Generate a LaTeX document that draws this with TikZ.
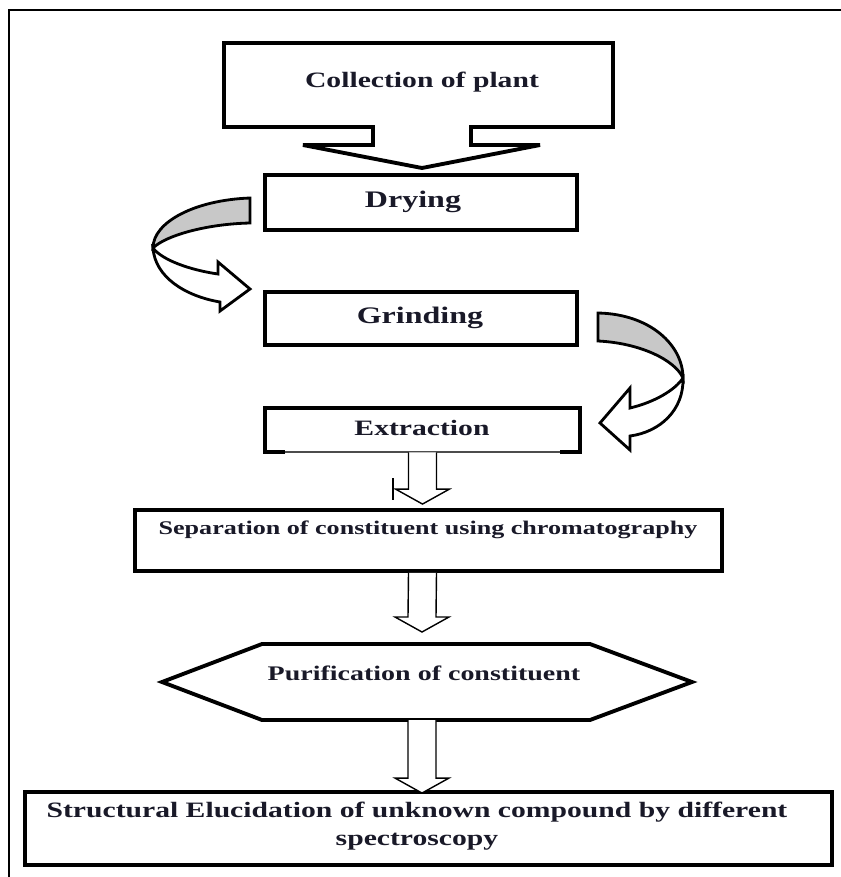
\documentclass[tikz,border=0pt]{standalone}
\usepackage{fontspec}
\setmainfont[FakeStretch=1.35]{Liberation Serif}
\usetikzlibrary{calc,fit}
\definecolor{txt}{RGB}{25,25,40}
\definecolor{bandgray}{RGB}{200,200,200}
\tikzset{
  thickbox/.style={draw=black,line width=2.2pt,fill=white,inner sep=0pt},
  lbl/.style={text=txt,font=\fontsize{#1}{16}\selectfont\bfseries,inner sep=0pt},
  lbl/.default=12.5,
  blockarr/.style={draw=black,line width=0.8pt,fill=white,line join=miter},
  curvearr/.style={draw=black,line width=1.6pt,line join=miter},
}
\newcommand\DownBlock[2]{%
  \draw[blockarr] ($(#1)+(-14,0)$) -- ($(#2)+(-14,-15)$) -- ($(#2)+(-27,-15)$) -- (#2)
    -- ($(#2)+(27,-15)$) -- ($(#2)+(14,-15)$) -- ($(#1)+(14,0)$);}
\begin{document}
\begin{tikzpicture}[x=0.02cm,y=-0.02cm]
\useasboundingbox (0,0) rectangle (841,877);
\fill[white] (0,0) rectangle (841,877);
% outer frame (top and left visible)
\draw[line width=1.2pt] (9,877) -- (9,10) -- (841,10);

% callout: collection of plant
\draw[thickbox,line width=2.2pt] (224,43) -- (613,43) -- (613,127) -- (471,127) -- (471,145)
  -- (540,145) -- (422,168) -- (303,145) -- (373,145) -- (373,127) -- (224,127) -- cycle;
\node[lbl=12.5] (coll) at (422,82) {Collection of plant};

% boxes
\node[thickbox,fit={(265,175) (577,230)}] (dryBox) {};
\node[lbl=13.5] (dry) at (413,202) {Drying};
\node[thickbox,fit={(265,292) (577,345)}] (grBox) {};
\node[lbl=13.5] (gr) at (420,318) {Grinding};
\node[inner sep=0pt,fit={(265,408) (580,452)}] (exBox) {};
\draw[line width=2.2pt] (285,452) -- (265,452) -- (265,408) -- (580,408) -- (580,452) -- (560,452);
\draw[line width=0.6pt,draw=black!70] (285,452) -- (560,452);
\node[lbl=12.5] (ex) at (422,428) {Extraction};
\node[thickbox,fit={(135,510) (722,571)}] (sepBox) {};
\node[lbl=11] (sep) at (428,530) {Separation of constituent using chromatography};
% hexagon
\draw[line width=2.2pt,fill=white,line join=miter] (162,682) -- (262,644) -- (590,644) -- (692,682) -- (590,720) -- (262,720) -- cycle;
\node[lbl=11.8] (pur) at (424,673) {Purification of constituent};
\coordinate (purS) at (422,720);
\coordinate (purN) at (422,644);
\node[thickbox,fit={(25,792) (832,865)}] (strBox) {};
\node[lbl=12.5,align=center] (str) at (417,826) {Structural Elucidation of unknown compound by different\\spectroscopy};

% curved arrow: drying -> grinding
\draw[curvearr,fill=bandgray] (250,198) .. controls (195,200) and (153,222) .. (153,248)
  .. controls (165,236) and (205,224) .. (250,223) -- cycle;
\draw[curvearr,fill=white] (153,248) .. controls (155,277) and (185,296) .. (220,302)
  -- (220,311) -- (250,289) -- (218,262) -- (218,274)
  .. controls (190,270) and (162,260) .. (153,248) -- cycle;

% curved arrow: grinding -> extraction
\draw[curvearr,fill=bandgray] (598,313) .. controls (650,314) and (683,345) .. (683,378)
  .. controls (675,360) and (640,343) .. (598,341) -- cycle;
\draw[curvearr,fill=white] (683,378) .. controls (684,410) and (660,432) .. (630,436)
  -- (630,450) -- (600,423) -- (630,388) -- (630,408)
  .. controls (655,402) and (675,390) .. (683,378) -- cycle;

% block arrows
\coordinate (a1s) at (exBox.south);
\coordinate (a1e) at ($(exBox.south |- sepBox.north)+(0,-4)$);
\DownBlock{a1s}{a1e}
\draw[line width=1.6pt] (393,478) -- (393,500);
\coordinate (a2s) at (exBox.south |- sepBox.south);
\coordinate (a2e) at ($(purN)+(0,-12)$);
\DownBlock{a2s}{a2e}
\coordinate (a3e) at ($(purS |- strBox.north)+(0,3)$);
\DownBlock{purS}{a3e}
\end{tikzpicture}
\end{document}
